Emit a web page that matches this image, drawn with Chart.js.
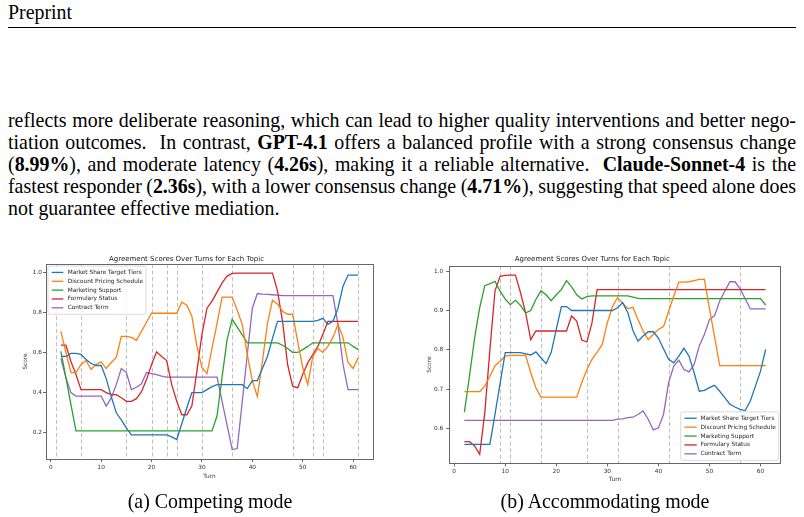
<!DOCTYPE html>
<html>
<head>
<meta charset="utf-8">
<script src="https://cdn.jsdelivr.net/npm/chart.js@4.4.0/dist/chart.umd.min.js"></script>
<style>
  body { margin: 0; width: 804px; height: 517px; background: #fff; position: relative; overflow: hidden;
         font-family: "Liberation Serif", "Times New Roman", serif; color: #000; }
  #head { position: absolute; left: 8px; top: 0; font-size: 19.9px; line-height: 24px; }
  #rule { position: absolute; left: 8px; top: 27px; width: 788px; height: 1px; background: #000; }
  #body { position: absolute; left: 8px; top: 109px; width: 788px; font-size: 19.9px; line-height: 22px; }
  #body div { text-align: justify; text-align-last: justify; white-space: nowrap; word-spacing: -2px; }
  #body div.last { text-align-last: left; word-spacing: 0; }
  .cap { position: absolute; top: 489px; width: 400px; font-size: 19.9px; line-height: 24px; text-align: center; }
  .wrap { position: absolute; top: 245px; width: 400px; height: 245px; }
</style>
</head>
<body>
<div id="head">Preprint</div>
<div id="rule"></div>
<div id="body">
  <div>reflects more deliberate reasoning, which can lead to higher quality interventions and better nego-</div>
  <div>tiation outcomes.&nbsp; In contrast, <b>GPT-4.1</b> offers a balanced profile with a strong consensus change</div>
  <div>(<b>8.99%</b>), and moderate latency (<b>4.26s</b>), making it a reliable alternative.&nbsp; <b>Claude-Sonnet-4</b> is the</div>
  <div>fastest responder (<b>2.36s</b>), with a lower consensus change (<b>4.71%</b>), suggesting that speed alone does</div>
  <div class="last">not guarantee effective mediation.</div>
</div>
<div class="wrap" style="left:0px"><canvas id="chartA" width="400" height="245"></canvas></div>
<div class="wrap" style="left:404px"><canvas id="chartB" width="400" height="245"></canvas></div>
<div class="cap" style="left:10px">(a) Competing mode</div>
<div class="cap" style="left:405px">(b) Accommodating mode</div>
<script>
const chartTitle = "Agreement Scores Over Turns for Each Topic";
const topics = ["Market Share Target Tiers", "Discount Pricing Schedule", "Marketing Support", "Formulary Status", "Contract Term"];
const colors = ["#1f77b4", "#ff7f0e", "#2ca02c", "#d62728", "#9467bd"];
const turns = [2,3,4,5,6,7,8,9,10,11,12,13,14,15,16,17,18,19,20,21,22,23,24,25,26,27,28,29,30,31,
               32,33,34,35,36,37,38,39,40,41,42,43,44,45,46,47,48,49,50,51,52,53,54,55,56,57,58,59,60,61];

// (a) competing mode
const compMarketShare = [0.58,0.58,0.595,0.595,0.59,0.565,0.545,0.535,0.535,0.47,
  0.38,0.30,0.265,0.225,0.19,0.19,0.19,0.19,0.19,0.19,
  0.19,0.19,0.18,0.167,0.245,0.325,0.40,0.40,0.40,0.415,
  0.43,0.44,0.44,0.44,0.44,0.44,0.44,0.42,0.46,0.46,
  0.52,0.58,0.67,0.755,0.755,0.755,0.755,0.755,0.755,0.755,
  0.755,0.76,0.77,0.74,0.755,0.82,0.93,0.985,0.985,0.985];
const compDiscount = [0.705,0.60,0.50,0.50,0.54,0.56,0.515,0.54,0.553,0.52,
  0.55,0.575,0.68,0.68,0.675,0.66,0.705,0.75,0.795,0.795,
  0.795,0.795,0.795,0.795,0.85,0.835,0.78,0.63,0.525,0.495,
  0.62,0.745,0.875,0.875,0.875,0.81,0.74,0.59,0.46,0.38,
  0.555,0.745,0.86,0.84,0.805,0.79,0.79,0.655,0.525,0.44,
  0.58,0.62,0.60,0.63,0.675,0.74,0.675,0.55,0.52,0.573];
const compMarketing = [0.605,0.475,0.34,0.21,0.21,0.21,0.21,0.21,0.21,0.21,
  0.21,0.21,0.21,0.21,0.21,0.21,0.21,0.21,0.21,0.21,
  0.21,0.21,0.21,0.21,0.21,0.21,0.21,0.21,0.21,0.21,
  0.21,0.285,0.48,0.665,0.765,0.726,0.687,0.648,0.648,0.648,
  0.648,0.648,0.648,0.648,0.636,0.62,0.60,0.60,0.614,0.63,
  0.648,0.648,0.648,0.648,0.648,0.648,0.648,0.648,0.63,0.614];
const compFormulary = [0.636,0.636,0.555,0.49,0.415,0.415,0.415,0.415,0.415,0.40,
  0.39,0.39,0.375,0.357,0.357,0.37,0.405,0.465,0.54,0.603,
  0.58,0.56,0.44,0.357,0.29,0.29,0.333,0.507,0.69,0.82,
  0.855,0.90,0.946,0.98,0.993,0.995,0.995,0.995,0.995,0.995,
  0.995,0.995,0.995,0.905,0.755,0.54,0.432,0.424,0.49,0.548,
  0.59,0.63,0.69,0.755,0.755,0.755,0.755,0.755,0.755,0.755];
const compContract = [0.57,0.475,0.40,0.383,0.383,0.383,0.383,0.383,0.383,0.333,
  0.374,0.44,0.52,0.50,0.415,0.427,0.444,0.50,0.495,0.49,
  0.482,0.477,0.477,0.477,0.477,0.477,0.477,0.477,0.477,0.477,
  0.477,0.477,0.357,0.237,0.117,0.122,0.355,0.59,0.82,0.893,
  0.89,0.889,0.887,0.885,0.883,0.883,0.883,0.883,0.883,0.883,
  0.883,0.883,0.883,0.883,0.883,0.74,0.54,0.415,0.415,0.415];
const compTurnLines = [1,6,15,20,23,25,30,36,48,52,54,61];

// (b) accommodating mode
const accMarketShare = [0.56,0.56,0.56,0.56,0.56,0.56,0.637,0.715,0.793,0.793,
  0.793,0.793,0.79,0.787,0.795,0.78,0.765,0.793,0.852,0.91,
  0.91,0.90,0.90,0.90,0.90,0.90,0.90,0.90,0.90,0.90,
  0.907,0.92,0.895,0.85,0.822,0.835,0.846,0.846,0.83,0.803,
  0.776,0.767,0.784,0.804,0.784,0.742,0.695,0.697,0.704,0.71,
  0.695,0.679,0.662,0.655,0.649,0.646,0.67,0.708,0.746,0.801];
const accDiscount = [0.694,0.694,0.694,0.694,0.708,0.733,0.76,0.771,0.784,0.786,
  0.786,0.786,0.786,0.742,0.704,0.68,0.68,0.68,0.68,0.68,
  0.68,0.68,0.68,0.717,0.75,0.776,0.794,0.814,0.869,0.91,
  0.933,0.918,0.905,0.908,0.877,0.848,0.826,0.839,0.852,0.859,
  0.898,0.936,0.972,0.972,0.973,0.976,0.979,0.979,0.905,0.833,
  0.76,0.76,0.76,0.76,0.76,0.76,0.76,0.76,0.76,0.76];
const accMarketing = [0.642,0.733,0.83,0.907,0.963,0.968,0.974,0.949,0.929,0.915,
  0.926,0.913,0.894,0.90,0.928,0.95,0.94,0.925,0.94,0.953,
  0.976,0.96,0.94,0.929,0.935,0.937,0.937,0.937,0.937,0.937,
  0.937,0.937,0.937,0.934,0.931,0.93,0.93,0.93,0.93,0.93,
  0.93,0.93,0.93,0.93,0.93,0.93,0.93,0.93,0.93,0.93,
  0.93,0.93,0.93,0.93,0.93,0.93,0.93,0.93,0.93,0.914];
const accFormulary = [0.567,0.567,0.556,0.535,0.64,0.80,0.95,0.987,0.989,0.99,
  0.99,0.945,0.894,0.826,0.848,0.848,0.848,0.848,0.848,0.848,
  0.848,0.886,0.873,0.825,0.82,0.869,0.953,0.953,0.953,0.953,
  0.953,0.953,0.953,0.953,0.953,0.953,0.953,0.953,0.953,0.953,
  0.953,0.953,0.953,0.953,0.953,0.953,0.953,0.953,0.953,0.953,
  0.953,0.953,0.953,0.953,0.953,0.953,0.953,0.953,0.953,0.953];
const accContract = [0.621,0.621,0.621,0.621,0.621,0.621,0.621,0.621,0.621,0.621,
  0.621,0.621,0.621,0.621,0.621,0.621,0.621,0.621,0.621,0.621,
  0.621,0.621,0.621,0.621,0.621,0.621,0.621,0.621,0.621,0.621,
  0.624,0.625,0.628,0.629,0.636,0.645,0.624,0.597,0.602,0.636,
  0.717,0.759,0.774,0.75,0.744,0.763,0.81,0.839,0.877,0.887,
  0.924,0.949,0.973,0.973,0.955,0.93,0.904,0.904,0.904,0.904];
const accTurnLines = [9,11,17,26,32,42,56];

const tickFont = { family: "DejaVu Sans", size: 5.8 };

// dashed grey lines at the turns where an intervention happened
const turnLines = {
  id: "turnLines",
  beforeDatasetsDraw(chart, args, opts) {
    const ctx = chart.ctx, a = chart.chartArea, xs = chart.scales.x;
    ctx.save();
    ctx.strokeStyle = "rgba(140,140,140,0.55)";
    ctx.lineWidth = 1;
    ctx.setLineDash([4, 2.5]);
    opts.values.forEach(v => {
      const x = Math.round(xs.getPixelForValue(v)) + 0.5;
      ctx.beginPath(); ctx.moveTo(x, a.top); ctx.lineTo(x, a.bottom); ctx.stroke();
    });
    ctx.restore();
  }
};

// box round the plot, like matplotlib spines
const frame = {
  id: "frame",
  afterDatasetsDraw(chart) {
    const ctx = chart.ctx, a = chart.chartArea;
    ctx.save();
    ctx.strokeStyle = "#666";
    ctx.lineWidth = 1;
    ctx.strokeRect(Math.round(a.left) + 0.5, Math.round(a.top) + 0.5, Math.round(a.right - a.left), Math.round(a.bottom - a.top));
    ctx.restore();
  }
};

// legend drawn inside the plot area
const boxLegend = {
  id: "boxLegend",
  afterDraw(chart, args, o) {
    const ctx = chart.ctx, a = chart.chartArea, items = chart.data.datasets;
    ctx.save();
    ctx.font = '5.8px "DejaVu Sans"';
    const tw = Math.max(...items.map(d => ctx.measureText(d.label).width));
    const w = o.padL + o.lineLen + o.gap + tw + o.padR;
    const h = items.length * o.rowH + o.padT + o.padB;
    let x0, y0;
    if (o.corner === "tl") { x0 = a.left + o.offX; y0 = a.top + o.offY; }
    else { x0 = a.right - o.offX - w; y0 = a.bottom - o.offY - h; }
    ctx.fillStyle = "rgba(255,255,255,0.85)";
    ctx.strokeStyle = "#d0d0d0";
    ctx.lineWidth = 0.8;
    ctx.beginPath(); ctx.roundRect(x0, y0, w, h, 2); ctx.fill(); ctx.stroke();
    items.forEach((d, i) => {
      const y = y0 + o.padT + o.rowH * (i + 0.5);
      ctx.strokeStyle = d.borderColor; ctx.lineWidth = 1.3;
      ctx.beginPath(); ctx.moveTo(x0 + o.padL, y); ctx.lineTo(x0 + o.padL + o.lineLen, y); ctx.stroke();
      ctx.fillStyle = "#222"; ctx.textBaseline = "middle";
      ctx.fillText(d.label, x0 + o.padL + o.lineLen + o.gap, y);
    });
    ctx.restore();
  }
};

function makeChart(id, series, lines, g) {
  return new Chart(document.getElementById(id), {
    type: "line",
    data: {
      datasets: topics.map((t, i) => ({
        label: t,
        data: turns.map((x, j) => ({ x: x, y: series[i][j] })),
        borderColor: colors[i],
        backgroundColor: colors[i],
        borderWidth: 1.3,
        pointRadius: 0,
        tension: 0,
        fill: false
      }))
    },
    options: {
      responsive: false,
      animation: false,
      layout: { padding: { left: 0, right: g.padRight, top: 0, bottom: 0 } },
      plugins: {
        legend: { display: false },
        tooltip: { enabled: false },
        title: {
          display: true, text: chartTitle, color: "#222",
          font: { family: "DejaVu Sans", size: 7, weight: "normal" },
          padding: { top: g.titleTop, bottom: g.titleBottom }
        },
        turnLines: { values: lines },
        boxLegend: g.legend
      },
      scales: {
        x: {
          type: "linear", min: -0.95, max: 63.95,
          afterFit: s => { s.height = g.xAxisH; },
          border: { display: false },
          grid: { drawOnChartArea: false, drawTicks: true, tickLength: 3, color: "#666" },
          ticks: { stepSize: 10, includeBounds: false, font: tickFont, color: "#333", padding: 2, maxRotation: 0 },
          title: { display: true, text: "Turn", font: tickFont, color: "#333", padding: { top: 0, bottom: g.turnPad } }
        },
        y: {
          min: g.yMin, max: g.yMax,
          afterFit: s => { s.width = g.yAxisW; },
          border: { display: false },
          grid: { drawOnChartArea: false, drawTicks: true, tickLength: 3, color: "#666" },
          ticks: { stepSize: g.yStep, includeBounds: false, font: tickFont, color: "#333", padding: g.yTickPad,
                   callback: v => v.toFixed(1) },
          title: { display: true, text: "Score", font: tickFont, color: "#333", padding: { top: 22.5, bottom: 0 } }
        }
      }
    },
    plugins: [turnLines, frame, boxLegend]
  });
}

makeChart("chartA",
  [compMarketShare, compDiscount, compMarketing, compFormulary, compContract],
  compTurnLines,
  { padRight: 27, titleTop: 9.8, titleBottom: 0.8, xAxisH: 31, turnPad: 10.5, yAxisW: 46,
    yMin: 0.07, yMax: 1.04, yStep: 0.2, yTickPad: 1,
    legend: { corner: "tl", offX: 2, offY: 2, padL: 3.7, lineLen: 11.6, gap: 4.4, padR: 3, padT: 2, padB: 2, rowH: 8.85 } });

makeChart("chartB",
  [accMarketShare, accDiscount, accMarketing, accFormulary, accContract],
  accTurnLines,
  { padRight: 23.3, titleTop: 10.1, titleBottom: 2.5, xAxisH: 26.7, turnPad: 7.5, yAxisW: 45.3,
    yMin: 0.512, yMax: 1.013, yStep: 0.1, yTickPad: 3,
    legend: { corner: "br", offX: 2, offY: 3, padL: 3.7, lineLen: 12.3, gap: 3.7, padR: 3, padT: 2, padB: 2, rowH: 8.9 } });
</script>
</body>
</html>
